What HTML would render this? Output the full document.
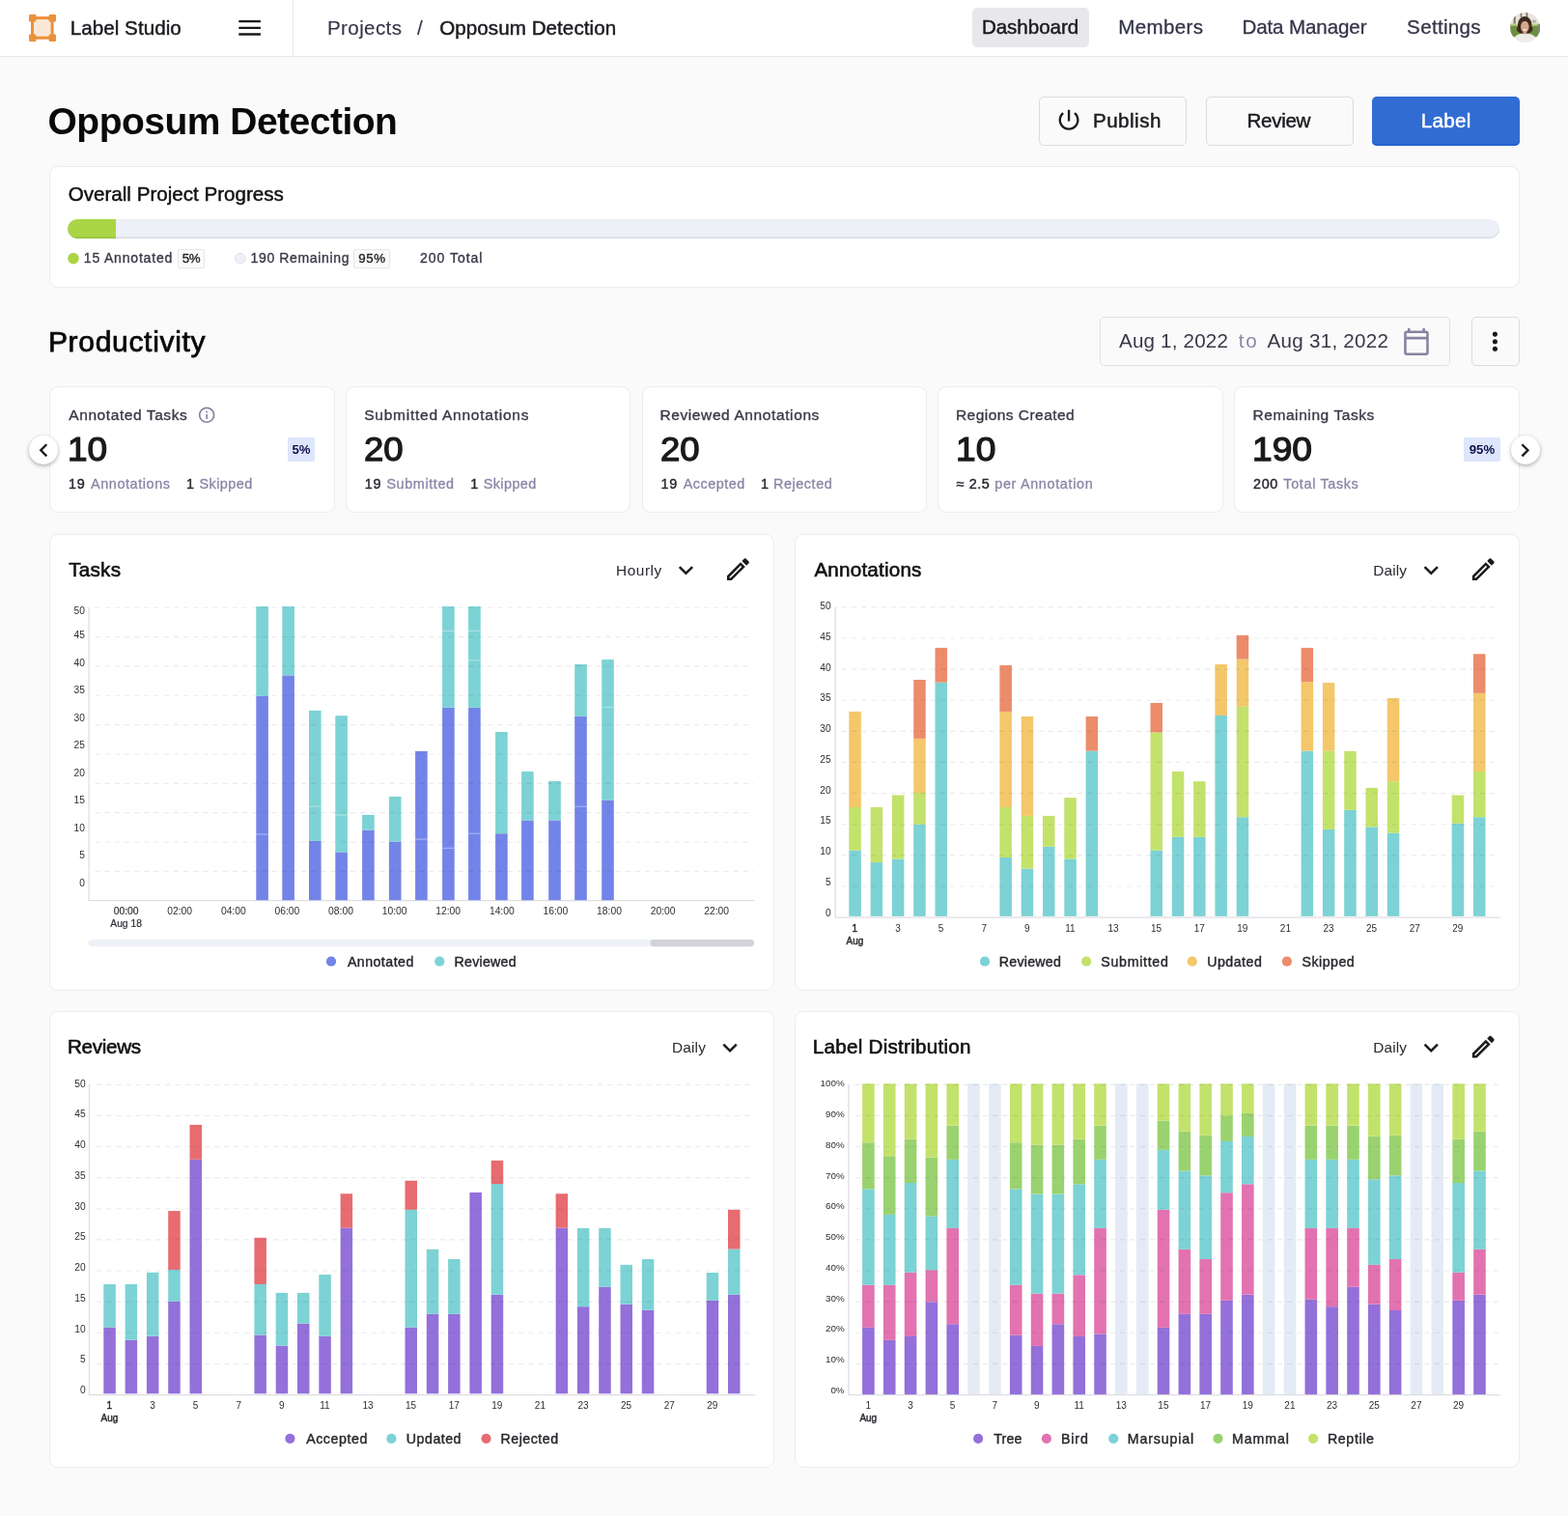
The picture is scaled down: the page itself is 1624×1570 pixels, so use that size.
<!DOCTYPE html>
<html lang="en"><head><meta charset="utf-8"><title>Opposum Detection - Label Studio</title>
<style>
html,body{margin:0;padding:0}
body{width:1624px;height:1570px;position:relative;overflow:hidden;background:#fafafa;font-family:"Liberation Sans",sans-serif;}
.t{position:absolute;white-space:pre;margin:0}
.card{position:absolute;background:#fff;border:1px solid #ececf1;border-radius:9px;box-sizing:border-box}
svg{position:absolute;overflow:visible}
svg text{font-family:"Liberation Sans",sans-serif}
</style></head><body>
<div class="hdr" style="position:absolute;left:0px;top:0px;width:1624px;height:58px;background:#fff;border-bottom:1px solid #e6e6ea;"></div>
<div class="" style="position:absolute;left:303px;top:0px;width:1px;height:58px;background:#e6e6ea;"></div>
<svg style="left:30px;top:15px" width="28" height="28" viewBox="0 0 28 28">
<rect x="3.5" y="3.6" width="20.6" height="20.6" fill="#fae8d6" stroke="#ec9038" stroke-width="3"/>
<rect x="0" y="0" width="7.4" height="7.4" rx="1" fill="#ec9038"/><rect x="20.6" y="0" width="7.4" height="7.4" rx="1" fill="#ec9038"/>
<rect x="0" y="20.6" width="7.4" height="7.4" rx="1" fill="#ec9038"/><rect x="20.6" y="20.6" width="7.4" height="7.4" rx="1" fill="#ec9038"/></svg>
<span class="t" style="left:72.68px;top:16.00px;font-size:20.6px;line-height:25px;color:#1a1a1f;letter-spacing:0.053px;-webkit-text-stroke:0.45px #1a1a1f;">Label Studio</span>
<svg style="left:247px;top:20px" width="24" height="18" viewBox="0 0 24 18"><path d="M0.3 2.1h22.6M0.3 8.8h22.6M0.3 15.5h22.6" stroke="#1a1a1a" stroke-width="2.3" fill="none"/></svg>
<span class="t" style="left:339.03px;top:15.70px;font-size:20.6px;line-height:25px;color:#35354a;letter-spacing:0.365px;-webkit-text-stroke:0.15px #35354a;">Projects</span>
<span class="t" style="left:431.88px;top:15.70px;font-size:20.6px;line-height:25px;color:#35354a;-webkit-text-stroke:0.15px #35354a;">/</span>
<span class="t" style="left:455.20px;top:15.70px;font-size:20.6px;line-height:25px;color:#1a1a1f;letter-spacing:0.057px;-webkit-text-stroke:0.45px #1a1a1f;">Opposum Detection</span>
<div class="" style="position:absolute;left:1007px;top:8px;width:121px;height:40.5px;background:#e8e8eb;border-radius:5px;"></div>
<span class="t" style="left:1016.88px;top:15.20px;font-size:20.6px;line-height:25px;color:#1a1a1f;letter-spacing:-0.050px;-webkit-text-stroke:0.45px #1a1a1f;">Dashboard</span>
<span class="t" style="left:1158.20px;top:15.20px;font-size:20.6px;line-height:25px;color:#35354a;letter-spacing:0.328px;-webkit-text-stroke:0.3px #35354a;">Members</span>
<span class="t" style="left:1286.40px;top:15.20px;font-size:20.6px;line-height:25px;color:#35354a;letter-spacing:-0.122px;-webkit-text-stroke:0.3px #35354a;">Data Manager</span>
<span class="t" style="left:1457.12px;top:15.20px;font-size:20.6px;line-height:25px;color:#35354a;letter-spacing:0.297px;-webkit-text-stroke:0.3px #35354a;">Settings</span>
<svg style="left:1564px;top:12px" width="32" height="32" viewBox="-0.1 -0.9 32 32"><defs><clipPath id="av"><circle cx="15.5" cy="15.5" r="15.5"/></clipPath></defs>
<g clip-path="url(#av)"><rect width="31" height="31" fill="#e8e4de"/><rect x="3.5" y="3" width="2.2" height="9" fill="#8a7a68"/><rect x="10.5" y="0" width="1.6" height="5" fill="#8a7660"/><rect x="16.5" y="0" width="1.6" height="5" fill="#7a6650"/><rect x="22.5" y="8" width="4.5" height="2.6" fill="#b5b3ad"/>
<rect y="12.3" width="31" height="13" fill="#6d8f3f"/><rect y="11.6" width="31" height="2.2" fill="#c3cd86"/><rect x="28.5" y="12" width="2.5" height="10" fill="#7d8a7a"/>
<ellipse cx="15.1" cy="12.6" rx="7.2" ry="8.4" fill="#3a2a21"/><ellipse cx="15.1" cy="17" rx="8.3" ry="5.6" fill="#3a2a21"/><ellipse cx="15.2" cy="14.8" rx="4.3" ry="6" fill="#d6a78c"/><ellipse cx="15.2" cy="18" rx="2" ry="0.9" fill="#f4e9e4"/><path d="M11 9.5Q15 6.5 19.5 10 19 7 15 6.6 11.5 7 11 9.500Z" fill="#3a2a21"/>
<path d="M2 31Q3.500 23 11.500 21.800L19 21.800Q27 23 28.500 31Z" fill="#efebe8"/><rect x="13.2" y="20" width="4" height="2.4" fill="#cf9f85"/></g></svg>
<span class="t" style="left:49.54px;top:101.80px;font-size:39px;line-height:47px;color:#0a0a0a;font-weight:700;letter-spacing:-0.513px;">Opposum Detection</span>
<div class="btn" style="position:absolute;left:1076px;top:100px;width:152.5px;height:50.5px;background:#fafafa;border:1px solid #dcdcdf;border-radius:5px;box-sizing:border-box;"></div>
<div class="btn" style="position:absolute;left:1249.3px;top:100px;width:152.5px;height:50.5px;background:#fafafa;border:1px solid #dcdcdf;border-radius:5px;box-sizing:border-box;"></div>
<div class="btn" style="position:absolute;left:1421px;top:100px;width:153px;height:50.6px;background:#316cd3;border-radius:5px;box-shadow:inset 0 -1.5px 0 #255ccc,0 1px 0 #fff;"></div>
<svg style="left:1093px;top:110px" width="29" height="29" viewBox="-0.086 -0.258 24.893 24.893"><path d="M13 3h-2v10h2V3zm4.83 2.17l-1.42 1.42C17.99 7.86 19 9.81 19 12c0 3.87-3.13 7-7 7s-7-3.13-7-7c0-2.19 1.01-4.14 2.58-5.42L6.17 5.17C4.23 6.82 3 9.26 3 12c0 4.97 4.03 9 9 9s9-4.03 9-9c0-2.74-1.23-5.18-3.17-6.83z" fill="#1a1a1a"/></svg>
<span class="t" style="left:1131.98px;top:111.80px;font-size:20.6px;line-height:25px;color:#1a1a1f;letter-spacing:0.478px;-webkit-text-stroke:0.45px #1a1a1f;">Publish</span>
<span class="t" style="left:1291.58px;top:111.80px;font-size:20.6px;line-height:25px;color:#1a1a1f;letter-spacing:-0.334px;-webkit-text-stroke:0.45px #1a1a1f;">Review</span>
<span class="t" style="left:1471.78px;top:111.80px;font-size:20.6px;line-height:25px;color:#fff;letter-spacing:0.267px;-webkit-text-stroke:0.45px #fff;">Label</span>
<div class="card" style="left:50.5px;top:171.5px;width:1523.5px;height:126px"></div>
<span class="t" style="left:70.70px;top:188.10px;font-size:20.6px;line-height:25px;color:#111;-webkit-text-stroke:0.45px #111;">Overall Project Progress</span>
<div class="" style="position:absolute;left:70.2px;top:227.2px;width:1483px;height:20px;background:#edf0f6;border-radius:10px;box-shadow:inset 0 -1.5px 0 #d9dce6;overflow:hidden;"><div style="width:50px;height:20px;background:#aad546;box-shadow:inset 0 -1.5px 0 #97c23a"></div></div>
<svg style="left:68px;top:260px" width="190" height="16" viewBox="68 260 190 16"><circle cx="76" cy="267.6" r="5.8" fill="#aad546"/><circle cx="248.8" cy="267.6" r="5.3" fill="#edf0f6" stroke="#dde1ec" stroke-width="1"/></svg>
<span class="t" style="left:86.83px;top:259.30px;font-size:14px;line-height:17px;color:#3a3848;letter-spacing:0.810px;-webkit-text-stroke:0.35px #3a3848;">15 Annotated</span>
<div class="" style="position:absolute;left:183.5px;top:258px;width:28.3px;height:20px;background:#fafafa;border:1px solid #e6e6ea;box-sizing:border-box;border-radius:2px;"></div>
<span class="t" style="left:188.64px;top:260.30px;font-size:13.3px;line-height:16px;color:#222;letter-spacing:-0.371px;-webkit-text-stroke:0.35px #222;">5%</span>
<span class="t" style="left:259.52px;top:259.30px;font-size:14px;line-height:17px;color:#3a3848;letter-spacing:0.649px;-webkit-text-stroke:0.35px #3a3848;">190 Remaining</span>
<div class="" style="position:absolute;left:366.4px;top:258px;width:37.2px;height:20px;background:#fafafa;border:1px solid #e6e6ea;box-sizing:border-box;border-radius:2px;"></div>
<span class="t" style="left:371.18px;top:260.30px;font-size:13.3px;line-height:16px;color:#222;letter-spacing:0.607px;-webkit-text-stroke:0.35px #222;">95%</span>
<span class="t" style="left:435.08px;top:259.30px;font-size:14px;line-height:17px;color:#3a3848;letter-spacing:0.975px;-webkit-text-stroke:0.35px #3a3848;">200 Total</span>
<span class="t" style="left:49.88px;top:335.60px;font-size:30px;line-height:36px;color:#0a0a0a;letter-spacing:0.695px;-webkit-text-stroke:0.75px #0a0a0a;">Productivity</span>
<div class="" style="position:absolute;left:1138.5px;top:328px;width:363.5px;height:50.5px;background:#fafafa;border:1px solid #e2e2e6;border-radius:5px;box-sizing:border-box;"></div>
<span class="t" style="left:1159.00px;top:340.20px;font-size:20.6px;line-height:25px;color:#3a3848;letter-spacing:0.189px;">Aug 1, 2022</span>
<span class="t" style="left:1282.69px;top:340.20px;font-size:20.6px;line-height:25px;color:#8a84a6;letter-spacing:1.932px;">to</span>
<span class="t" style="left:1312.50px;top:340.20px;font-size:20.6px;line-height:25px;color:#3a3848;letter-spacing:0.269px;">Aug 31, 2022</span>
<svg style="left:1451px;top:338px" width="32" height="32" viewBox="-0.469 -0.469 25 25"><path d="M20 3h-1V1h-2v2H7V1H5v2H4c-1.1 0-2 .9-2 2v16c0 1.1.9 2 2 2h16c1.1 0 2-.9 2-2V5c0-1.1-.9-2-2-2zm0 18H4V10h16v11zm0-13H4V5h16v3z" fill="#8a82a0"/></svg>
<div class="" style="position:absolute;left:1523.5px;top:328px;width:50px;height:50.5px;background:#fafafa;border:1px solid #dcdcdf;border-radius:5px;box-sizing:border-box;"></div>
<svg style="left:1544px;top:342px" width="9" height="24" viewBox="-0.4 0 9 24"><circle cx="4" cy="4.1" r="2.55" fill="#1a1a1a"/><circle cx="4" cy="11.7" r="2.55" fill="#1a1a1a"/><circle cx="4" cy="19.2" r="2.55" fill="#1a1a1a"/></svg>
<div class="card" style="left:51px;top:399.5px;width:295.5px;height:131px"></div>
<span class="t ct" style="left:71.27px;top:419.80px;font-size:15.5px;line-height:19px;color:#3a3848;letter-spacing:0.584px;-webkit-text-stroke:0.35px #3a3848;">Annotated Tasks</span>
<span class="t cn" style="left:70.15px;top:444.20px;font-size:35px;line-height:42px;color:#1a1a1a;transform:scaleX(1.0557);transform-origin:0 0;-webkit-text-stroke:1.25px #1a1a1a;">10</span>
<span class="t s1" style="left:71.02px;top:492.00px;font-size:14.4px;line-height:18px;color:#26262e;letter-spacing:0.844px;-webkit-text-stroke:0.4px #26262e;">19</span>
<span class="t s2" style="left:94.05px;top:492.00px;font-size:14.4px;line-height:18px;color:#8a84a6;letter-spacing:0.587px;-webkit-text-stroke:0.3px #8a84a6;">Annotations</span>
<span class="t s1" style="left:192.92px;top:492.00px;font-size:14.4px;line-height:18px;color:#26262e;-webkit-text-stroke:0.4px #26262e;">1</span>
<span class="t s2" style="left:206.50px;top:492.00px;font-size:14.4px;line-height:18px;color:#8a84a6;letter-spacing:0.459px;-webkit-text-stroke:0.3px #8a84a6;">Skipped</span>
<div class="" style="position:absolute;left:297.8px;top:453.2px;width:28.5px;height:24.5px;background:#dde6fb;border-radius:2px;"></div>
<span class="t bd" style="left:302.48px;top:457.50px;font-size:13.2px;line-height:16px;color:#11114e;font-weight:700;">5%</span>
<svg style="left:204px;top:419px" width="21" height="21" viewBox="-0.303 -1.152 25.455 25.455"><path d="M11 7h2v2h-2zm0 4h2v6h-2zm1-9C6.48 2 2 6.48 2 12s4.48 10 10 10 10-4.48 10-10S17.52 2 12 2zm0 18c-4.41 0-8-3.59-8-8s3.59-8 8-8 8 3.59 8 8-3.59 8-8 8z" fill="#8a80a2"/></svg>
<div class="card" style="left:357.75px;top:399.5px;width:295.5px;height:131px"></div>
<span class="t ct" style="left:377.28px;top:419.80px;font-size:15.5px;line-height:19px;color:#3a3848;letter-spacing:0.751px;-webkit-text-stroke:0.35px #3a3848;">Submitted Annotations</span>
<span class="t cn" style="left:377.10px;top:444.20px;font-size:35px;line-height:42px;color:#1a1a1a;transform:scaleX(1.0439);transform-origin:0 0;-webkit-text-stroke:1.25px #1a1a1a;">20</span>
<span class="t s1" style="left:377.82px;top:492.00px;font-size:14.4px;line-height:18px;color:#26262e;letter-spacing:0.644px;-webkit-text-stroke:0.4px #26262e;">19</span>
<span class="t s2" style="left:400.40px;top:492.00px;font-size:14.4px;line-height:18px;color:#8a84a6;letter-spacing:0.602px;-webkit-text-stroke:0.3px #8a84a6;">Submitted</span>
<span class="t s1" style="left:487.32px;top:492.00px;font-size:14.4px;line-height:18px;color:#26262e;-webkit-text-stroke:0.4px #26262e;">1</span>
<span class="t s2" style="left:500.70px;top:492.00px;font-size:14.4px;line-height:18px;color:#8a84a6;letter-spacing:0.426px;-webkit-text-stroke:0.3px #8a84a6;">Skipped</span>
<div class="card" style="left:664.5px;top:399.5px;width:295.5px;height:131px"></div>
<span class="t ct" style="left:683.43px;top:419.80px;font-size:15.5px;line-height:19px;color:#3a3848;letter-spacing:0.608px;-webkit-text-stroke:0.35px #3a3848;">Reviewed Annotations</span>
<span class="t cn" style="left:683.80px;top:444.20px;font-size:35px;line-height:42px;color:#1a1a1a;transform:scaleX(1.0439);transform-origin:0 0;-webkit-text-stroke:1.25px #1a1a1a;">20</span>
<span class="t s1" style="left:684.52px;top:492.00px;font-size:14.4px;line-height:18px;color:#26262e;letter-spacing:0.644px;-webkit-text-stroke:0.4px #26262e;">19</span>
<span class="t s2" style="left:707.65px;top:492.00px;font-size:14.4px;line-height:18px;color:#8a84a6;letter-spacing:0.502px;-webkit-text-stroke:0.3px #8a84a6;">Accepted</span>
<span class="t s1" style="left:788.12px;top:492.00px;font-size:14.4px;line-height:18px;color:#26262e;-webkit-text-stroke:0.4px #26262e;">1</span>
<span class="t s2" style="left:801.00px;top:492.00px;font-size:14.4px;line-height:18px;color:#8a84a6;letter-spacing:0.558px;-webkit-text-stroke:0.3px #8a84a6;">Rejected</span>
<div class="card" style="left:971.25px;top:399.5px;width:295.5px;height:131px"></div>
<span class="t ct" style="left:989.93px;top:419.80px;font-size:15.5px;line-height:19px;color:#3a3848;letter-spacing:0.464px;-webkit-text-stroke:0.35px #3a3848;">Regions Created</span>
<span class="t cn" style="left:989.84px;top:444.20px;font-size:35px;line-height:42px;color:#1a1a1a;transform:scaleX(1.0614);transform-origin:0 0;-webkit-text-stroke:1.25px #1a1a1a;">10</span>
<span class="t s1" style="left:990.84px;top:492.00px;font-size:14.4px;line-height:18px;color:#26262e;letter-spacing:0.535px;-webkit-text-stroke:0.4px #26262e;">≈ 2.5</span>
<span class="t s2" style="left:1030.21px;top:492.00px;font-size:14.4px;line-height:18px;color:#8a84a6;letter-spacing:0.669px;-webkit-text-stroke:0.3px #8a84a6;">per Annotation</span>
<div class="card" style="left:1278px;top:399.5px;width:295.5px;height:131px"></div>
<span class="t ct" style="left:1297.43px;top:419.80px;font-size:15.5px;line-height:19px;color:#3a3848;letter-spacing:0.586px;-webkit-text-stroke:0.35px #3a3848;">Remaining Tasks</span>
<span class="t cn" style="left:1297.34px;top:444.20px;font-size:35px;line-height:42px;color:#1a1a1a;transform:scaleX(1.0611);transform-origin:0 0;-webkit-text-stroke:1.25px #1a1a1a;">190</span>
<span class="t s1" style="left:1297.98px;top:492.00px;font-size:14.4px;line-height:18px;color:#26262e;letter-spacing:0.674px;-webkit-text-stroke:0.4px #26262e;">200</span>
<span class="t s2" style="left:1329.36px;top:492.00px;font-size:14.4px;line-height:18px;color:#8a84a6;letter-spacing:0.650px;-webkit-text-stroke:0.3px #8a84a6;">Total Tasks</span>
<div class="" style="position:absolute;left:1516px;top:453.2px;width:38px;height:24.5px;background:#dde6fb;border-radius:2px;"></div>
<span class="t bd" style="left:1521.73px;top:457.50px;font-size:13.2px;line-height:16px;color:#11114e;font-weight:700;">95%</span>
<div class="" style="position:absolute;left:30.200000000000003px;top:451.2px;width:30px;height:30px;background:#fff;border-radius:50%;box-shadow:0 1.5px 4px rgba(0,0,0,.32);"></div>
<svg style="left:31px;top:452px" width="29" height="29" viewBox="-0.348 -0.435 25.217 25.217"><path d="M15.41 7.41L14 6l-6 6 6 6 1.41-1.41L10.83 12z" fill="#1a1a1a"/></svg>
<div class="" style="position:absolute;left:1564.5px;top:451.2px;width:30px;height:30px;background:#fff;border-radius:50%;box-shadow:0 1.5px 4px rgba(0,0,0,.32);"></div>
<svg style="left:1565px;top:452px" width="29" height="29" viewBox="-0.609 -0.435 25.217 25.217"><path d="M10 6L8.59 7.41 13.17 12l-4.58 4.59L10 18l6-6z" fill="#1a1a1a"/></svg>
<div class="card" style="left:51px;top:552.5px;width:750.9px;height:473px"></div>
<span class="t" style="left:71.19px;top:576.70px;font-size:20.6px;line-height:25px;color:#111;letter-spacing:0.275px;-webkit-text-stroke:0.6px #111;">Tasks</span>
<span class="t" style="left:637.97px;top:580.90px;font-size:15.4px;line-height:19px;color:#2a2a30;letter-spacing:0.565px;">Hourly</span>
<svg style="left:695px;top:575px" width="31" height="31" viewBox="-0.238 -0.238 24.554 24.554"><path d="M7.41 8.59L12 13.17l4.59-4.58L18 10l-6 6-6-6 1.41-1.41z" fill="#1c1c1c"/></svg>
<svg style="left:749px;top:574px" width="31" height="31" viewBox="-0.157 -0.315 24.393 24.393"><path d="M14.06 9.02l.92.92L5.92 19H5v-.92l9.06-9.06M17.66 3c-.25 0-.51.1-.7.29l-1.83 1.83 3.75 3.75 1.83-1.83c.39-.39.39-1.02 0-1.41l-2.34-2.34c-.2-.2-.45-.29-.71-.29zm-3.6 3.19L3 17.25V21h3.75L17.81 9.94l-3.75-3.75z" fill="#1c1c1c" fill-rule="evenodd"/></svg>
<svg style="left:51px;top:552px" width="751" height="474" viewBox="51 552 751 474">
<path d="M92.1 628.70V932.6H781" stroke="#dedee3" stroke-width="1.25" fill="none"/>
<text x="87.9" y="635.85" font-size="10.2" fill="#2e2e33" text-anchor="end">50</text>
<text x="87.9" y="661.25" font-size="10.2" fill="#2e2e33" text-anchor="end">45</text>
<text x="87.9" y="689.78" font-size="10.2" fill="#2e2e33" text-anchor="end">40</text>
<text x="87.9" y="718.31" font-size="10.2" fill="#2e2e33" text-anchor="end">35</text>
<text x="87.9" y="746.84" font-size="10.2" fill="#2e2e33" text-anchor="end">30</text>
<text x="87.9" y="775.37" font-size="10.2" fill="#2e2e33" text-anchor="end">25</text>
<text x="87.9" y="803.90" font-size="10.2" fill="#2e2e33" text-anchor="end">20</text>
<text x="87.9" y="832.43" font-size="10.2" fill="#2e2e33" text-anchor="end">15</text>
<text x="87.9" y="860.96" font-size="10.2" fill="#2e2e33" text-anchor="end">10</text>
<text x="87.9" y="889.49" font-size="10.2" fill="#2e2e33" text-anchor="end">5</text>
<text x="87.9" y="918.02" font-size="10.2" fill="#2e2e33" text-anchor="end">0</text>
<rect x="265.30" y="720.80" width="12.6" height="211.50" fill="#7384e8"/>
<rect x="265.30" y="628.10" width="12.6" height="92.70" fill="#7cd2d4"/>
<rect x="292.30" y="699.40" width="12.6" height="232.90" fill="#7384e8"/>
<rect x="292.30" y="628.10" width="12.6" height="71.30" fill="#7cd2d4"/>
<rect x="320.00" y="870.90" width="12.6" height="61.40" fill="#7384e8"/>
<rect x="320.00" y="735.90" width="12.6" height="135.00" fill="#7cd2d4"/>
<rect x="347.30" y="882.40" width="12.6" height="49.90" fill="#7384e8"/>
<rect x="347.30" y="741.20" width="12.6" height="141.20" fill="#7cd2d4"/>
<rect x="375.10" y="859.70" width="12.6" height="72.60" fill="#7384e8"/>
<rect x="375.10" y="843.90" width="12.6" height="15.80" fill="#7cd2d4"/>
<rect x="402.90" y="871.70" width="12.6" height="60.60" fill="#7384e8"/>
<rect x="402.90" y="825.00" width="12.6" height="46.70" fill="#7cd2d4"/>
<rect x="430.10" y="777.90" width="12.6" height="154.40" fill="#7384e8"/>
<rect x="458.10" y="732.80" width="12.6" height="199.50" fill="#7384e8"/>
<rect x="458.10" y="628.10" width="12.6" height="104.70" fill="#7cd2d4"/>
<rect x="485.10" y="732.80" width="12.6" height="199.50" fill="#7384e8"/>
<rect x="485.10" y="628.10" width="12.6" height="104.70" fill="#7cd2d4"/>
<rect x="513.10" y="863.20" width="12.6" height="69.10" fill="#7384e8"/>
<rect x="513.10" y="758.00" width="12.6" height="105.20" fill="#7cd2d4"/>
<rect x="540.10" y="849.50" width="12.6" height="82.80" fill="#7384e8"/>
<rect x="540.10" y="799.00" width="12.6" height="50.50" fill="#7cd2d4"/>
<rect x="568.20" y="849.50" width="12.6" height="82.80" fill="#7384e8"/>
<rect x="568.20" y="809.00" width="12.6" height="40.50" fill="#7cd2d4"/>
<rect x="595.20" y="741.70" width="12.6" height="190.60" fill="#7384e8"/>
<rect x="595.20" y="688.00" width="12.6" height="53.70" fill="#7cd2d4"/>
<rect x="623.20" y="828.90" width="12.6" height="103.40" fill="#7384e8"/>
<rect x="623.20" y="683.10" width="12.6" height="145.80" fill="#7cd2d4"/>
<path d="M265.30 864h12.6" stroke="#fff" stroke-opacity=".55" stroke-width=".8"/>
<path d="M320.00 835.2h12.6" stroke="#fff" stroke-opacity=".55" stroke-width=".8"/>
<path d="M347.30 844.1h12.6" stroke="#fff" stroke-opacity=".55" stroke-width=".8"/>
<path d="M430.10 869.1h12.6" stroke="#fff" stroke-opacity=".55" stroke-width=".8"/>
<path d="M458.10 878.3h12.6" stroke="#fff" stroke-opacity=".55" stroke-width=".8"/>
<path d="M458.10 653.3h12.6" stroke="#fff" stroke-opacity=".55" stroke-width=".8"/>
<path d="M485.10 863.2h12.6" stroke="#fff" stroke-opacity=".55" stroke-width=".8"/>
<path d="M485.10 653.3h12.6" stroke="#fff" stroke-opacity=".55" stroke-width=".8"/>
<path d="M485.10 683.9h12.6" stroke="#fff" stroke-opacity=".55" stroke-width=".8"/>
<path d="M595.20 835.2h12.6" stroke="#fff" stroke-opacity=".55" stroke-width=".8"/>
<path d="M623.20 732.3h12.6" stroke="#fff" stroke-opacity=".55" stroke-width=".8"/>
<text x="130.6" y="947.3" font-size="10.3" fill="#2e2e33" text-anchor="middle" stroke="#2e2e33" stroke-width="0.2">00:00</text>
<text x="186.2" y="947.3" font-size="10.3" fill="#2e2e33" text-anchor="middle">02:00</text>
<text x="241.8" y="947.3" font-size="10.3" fill="#2e2e33" text-anchor="middle">04:00</text>
<text x="297.4" y="947.3" font-size="10.3" fill="#2e2e33" text-anchor="middle">06:00</text>
<text x="353.0" y="947.3" font-size="10.3" fill="#2e2e33" text-anchor="middle">08:00</text>
<text x="408.6" y="947.3" font-size="10.3" fill="#2e2e33" text-anchor="middle">10:00</text>
<text x="464.2" y="947.3" font-size="10.3" fill="#2e2e33" text-anchor="middle">12:00</text>
<text x="519.8" y="947.3" font-size="10.3" fill="#2e2e33" text-anchor="middle">14:00</text>
<text x="575.4" y="947.3" font-size="10.3" fill="#2e2e33" text-anchor="middle">16:00</text>
<text x="631.0" y="947.3" font-size="10.3" fill="#2e2e33" text-anchor="middle">18:00</text>
<text x="686.6" y="947.3" font-size="10.3" fill="#2e2e33" text-anchor="middle">20:00</text>
<text x="742.2" y="947.3" font-size="10.3" fill="#2e2e33" text-anchor="middle">22:00</text>
<text x="130.6" y="959.9" font-size="10.3" fill="#2e2e33" text-anchor="middle" stroke="#2e2e33" stroke-width="0.2">Aug 18</text>
<rect x="91.6" y="972.9" width="689.4" height="7.3" rx="3.65" fill="#eef1f7"/><rect x="673.4" y="972.9" width="107.6" height="7.3" rx="3.65" fill="#d2d2db"/>
<path d="M98.5 629.20H781" stroke="#2a2a50" stroke-opacity=".095" stroke-width="1.15" stroke-dasharray="5.1 5.07" fill="none"/>
<path d="M98.5 659.55H781" stroke="#2a2a50" stroke-opacity=".095" stroke-width="1.15" stroke-dasharray="5.1 5.07" fill="none"/>
<path d="M98.5 689.90H781" stroke="#2a2a50" stroke-opacity=".095" stroke-width="1.15" stroke-dasharray="5.1 5.07" fill="none"/>
<path d="M98.5 720.25H781" stroke="#2a2a50" stroke-opacity=".095" stroke-width="1.15" stroke-dasharray="5.1 5.07" fill="none"/>
<path d="M98.5 750.60H781" stroke="#2a2a50" stroke-opacity=".095" stroke-width="1.15" stroke-dasharray="5.1 5.07" fill="none"/>
<path d="M98.5 780.95H781" stroke="#2a2a50" stroke-opacity=".095" stroke-width="1.15" stroke-dasharray="5.1 5.07" fill="none"/>
<path d="M98.5 811.30H781" stroke="#2a2a50" stroke-opacity=".095" stroke-width="1.15" stroke-dasharray="5.1 5.07" fill="none"/>
<path d="M98.5 841.65H781" stroke="#2a2a50" stroke-opacity=".095" stroke-width="1.15" stroke-dasharray="5.1 5.07" fill="none"/>
<path d="M98.5 872.00H781" stroke="#2a2a50" stroke-opacity=".095" stroke-width="1.15" stroke-dasharray="5.1 5.07" fill="none"/>
<path d="M98.5 902.35H781" stroke="#2a2a50" stroke-opacity=".095" stroke-width="1.15" stroke-dasharray="5.1 5.07" fill="none"/>
</svg>
<svg style="left:335px;top:987px" width="128" height="16" viewBox="335 987 128 16"><circle cx="343" cy="995.7" r="5.1" fill="#7384e8"/><circle cx="455.3" cy="995.7" r="5.1" fill="#7cd2d4"/></svg>
<span class="t" style="left:359.90px;top:986.80px;font-size:14.2px;line-height:18px;color:#26262c;letter-spacing:0.462px;-webkit-text-stroke:0.4px #26262c;">Annotated</span>
<span class="t" style="left:470.56px;top:986.80px;font-size:14.2px;line-height:18px;color:#26262c;letter-spacing:0.250px;-webkit-text-stroke:0.4px #26262c;">Reviewed</span>
<div class="card" style="left:822.8px;top:552.5px;width:750.9px;height:473px"></div>
<span class="t" style="left:843.40px;top:576.70px;font-size:20.6px;line-height:25px;color:#111;letter-spacing:0.225px;-webkit-text-stroke:0.6px #111;">Annotations</span>
<span class="t" style="left:1422.17px;top:580.90px;font-size:15.4px;line-height:19px;color:#2a2a30;letter-spacing:0.167px;">Daily</span>
<svg style="left:1467px;top:575px" width="31" height="31" viewBox="-0.079 -0.238 24.554 24.554"><path d="M7.41 8.59L12 13.17l4.59-4.58L18 10l-6 6-6-6 1.41-1.41z" fill="#1c1c1c"/></svg>
<svg style="left:1521px;top:574px" width="31" height="31" viewBox="0 -0.315 24.393 24.393"><path d="M14.06 9.02l.92.92L5.92 19H5v-.92l9.06-9.06M17.66 3c-.25 0-.51.1-.7.29l-1.83 1.83 3.75 3.75 1.83-1.83c.39-.39.39-1.02 0-1.41l-2.34-2.34c-.2-.2-.45-.29-.71-.29zm-3.6 3.19L3 17.25V21h3.75L17.81 9.94l-3.75-3.75z" fill="#1c1c1c" fill-rule="evenodd"/></svg>
<svg style="left:822px;top:552px" width="752" height="474" viewBox="822 552 752 474">
<path d="M865.1 628.40V950.1H1554" stroke="#dedee3" stroke-width="1.25" fill="none"/>
<text x="860.6" y="631.15" font-size="10.2" fill="#2e2e33" text-anchor="end">50</text>
<text x="860.6" y="662.91" font-size="10.2" fill="#2e2e33" text-anchor="end">45</text>
<text x="860.6" y="694.67" font-size="10.2" fill="#2e2e33" text-anchor="end">40</text>
<text x="860.6" y="726.43" font-size="10.2" fill="#2e2e33" text-anchor="end">35</text>
<text x="860.6" y="758.19" font-size="10.2" fill="#2e2e33" text-anchor="end">30</text>
<text x="860.6" y="789.95" font-size="10.2" fill="#2e2e33" text-anchor="end">25</text>
<text x="860.6" y="821.71" font-size="10.2" fill="#2e2e33" text-anchor="end">20</text>
<text x="860.6" y="853.47" font-size="10.2" fill="#2e2e33" text-anchor="end">15</text>
<text x="860.6" y="885.23" font-size="10.2" fill="#2e2e33" text-anchor="end">10</text>
<text x="860.6" y="916.99" font-size="10.2" fill="#2e2e33" text-anchor="end">5</text>
<text x="860.6" y="948.75" font-size="10.2" fill="#2e2e33" text-anchor="end">0</text>
<text x="885.4" y="964.7" font-size="10" fill="#2e2e33" text-anchor="middle" stroke="#2e2e33" stroke-width="0.45">1</text>
<text x="930.0" y="964.7" font-size="10" fill="#2e2e33" text-anchor="middle">3</text>
<text x="974.6" y="964.7" font-size="10" fill="#2e2e33" text-anchor="middle">5</text>
<text x="1019.2" y="964.7" font-size="10" fill="#2e2e33" text-anchor="middle">7</text>
<text x="1063.8" y="964.7" font-size="10" fill="#2e2e33" text-anchor="middle">9</text>
<text x="1108.4" y="964.7" font-size="10" fill="#2e2e33" text-anchor="middle">11</text>
<text x="1153.0" y="964.7" font-size="10" fill="#2e2e33" text-anchor="middle">13</text>
<text x="1197.6" y="964.7" font-size="10" fill="#2e2e33" text-anchor="middle">15</text>
<text x="1242.2" y="964.7" font-size="10" fill="#2e2e33" text-anchor="middle">17</text>
<text x="1286.8" y="964.7" font-size="10" fill="#2e2e33" text-anchor="middle">19</text>
<text x="1331.4" y="964.7" font-size="10" fill="#2e2e33" text-anchor="middle">21</text>
<text x="1376.0" y="964.7" font-size="10" fill="#2e2e33" text-anchor="middle">23</text>
<text x="1420.6" y="964.7" font-size="10" fill="#2e2e33" text-anchor="middle">25</text>
<text x="1465.2" y="964.7" font-size="10" fill="#2e2e33" text-anchor="middle">27</text>
<text x="1509.8" y="964.7" font-size="10" fill="#2e2e33" text-anchor="middle">29</text>
<text x="885.4" y="977.5" font-size="10" fill="#2e2e33" text-anchor="middle" stroke="#2e2e33" stroke-width="0.45">Aug</text>
<rect x="879.30" y="880.60" width="12.5" height="68.30" fill="#7cd2d4"/>
<rect x="879.30" y="836.00" width="12.5" height="44.60" fill="#c3e26b"/>
<rect x="879.30" y="736.90" width="12.5" height="99.10" fill="#f3c76a"/>
<rect x="901.60" y="893.10" width="12.5" height="55.80" fill="#7cd2d4"/>
<rect x="901.60" y="836.00" width="12.5" height="57.10" fill="#c3e26b"/>
<rect x="923.90" y="889.50" width="12.5" height="59.40" fill="#7cd2d4"/>
<rect x="923.90" y="823.50" width="12.5" height="66.00" fill="#c3e26b"/>
<rect x="946.20" y="853.80" width="12.5" height="95.10" fill="#7cd2d4"/>
<rect x="946.20" y="821.00" width="12.5" height="32.80" fill="#c3e26b"/>
<rect x="946.20" y="764.90" width="12.5" height="56.10" fill="#f3c76a"/>
<rect x="946.20" y="704.00" width="12.5" height="60.90" fill="#ec8c6a"/>
<rect x="968.50" y="706.60" width="12.5" height="242.30" fill="#7cd2d4"/>
<rect x="968.50" y="670.90" width="12.5" height="35.70" fill="#ec8c6a"/>
<rect x="1035.40" y="888.00" width="12.5" height="60.90" fill="#7cd2d4"/>
<rect x="1035.40" y="836.00" width="12.5" height="52.00" fill="#c3e26b"/>
<rect x="1035.40" y="736.90" width="12.5" height="99.10" fill="#f3c76a"/>
<rect x="1035.40" y="689.00" width="12.5" height="47.90" fill="#ec8c6a"/>
<rect x="1057.70" y="899.70" width="12.5" height="49.20" fill="#7cd2d4"/>
<rect x="1057.70" y="844.90" width="12.5" height="54.80" fill="#c3e26b"/>
<rect x="1057.70" y="742.00" width="12.5" height="102.90" fill="#f3c76a"/>
<rect x="1080.00" y="876.80" width="12.5" height="72.10" fill="#7cd2d4"/>
<rect x="1080.00" y="844.90" width="12.5" height="31.90" fill="#c3e26b"/>
<rect x="1102.30" y="889.50" width="12.5" height="59.40" fill="#7cd2d4"/>
<rect x="1102.30" y="826.10" width="12.5" height="63.40" fill="#c3e26b"/>
<rect x="1124.60" y="777.60" width="12.5" height="171.30" fill="#7cd2d4"/>
<rect x="1124.60" y="742.00" width="12.5" height="35.60" fill="#ec8c6a"/>
<rect x="1191.50" y="880.60" width="12.5" height="68.30" fill="#7cd2d4"/>
<rect x="1191.50" y="758.50" width="12.5" height="122.10" fill="#c3e26b"/>
<rect x="1191.50" y="728.00" width="12.5" height="30.50" fill="#ec8c6a"/>
<rect x="1213.80" y="866.80" width="12.5" height="82.10" fill="#7cd2d4"/>
<rect x="1213.80" y="799.00" width="12.5" height="67.80" fill="#c3e26b"/>
<rect x="1236.10" y="866.80" width="12.5" height="82.10" fill="#7cd2d4"/>
<rect x="1236.10" y="809.20" width="12.5" height="57.60" fill="#c3e26b"/>
<rect x="1258.40" y="741.00" width="12.5" height="207.90" fill="#7cd2d4"/>
<rect x="1258.40" y="688.00" width="12.5" height="53.00" fill="#f3c76a"/>
<rect x="1280.70" y="846.20" width="12.5" height="102.70" fill="#7cd2d4"/>
<rect x="1280.70" y="731.80" width="12.5" height="114.40" fill="#c3e26b"/>
<rect x="1280.70" y="682.60" width="12.5" height="49.20" fill="#f3c76a"/>
<rect x="1280.70" y="657.90" width="12.5" height="24.70" fill="#ec8c6a"/>
<rect x="1347.60" y="777.60" width="12.5" height="171.30" fill="#7cd2d4"/>
<rect x="1347.60" y="706.30" width="12.5" height="71.30" fill="#f3c76a"/>
<rect x="1347.60" y="670.90" width="12.5" height="35.40" fill="#ec8c6a"/>
<rect x="1369.90" y="858.90" width="12.5" height="90.00" fill="#7cd2d4"/>
<rect x="1369.90" y="777.60" width="12.5" height="81.30" fill="#c3e26b"/>
<rect x="1369.90" y="707.10" width="12.5" height="70.50" fill="#f3c76a"/>
<rect x="1392.20" y="838.80" width="12.5" height="110.10" fill="#7cd2d4"/>
<rect x="1392.20" y="777.90" width="12.5" height="60.90" fill="#c3e26b"/>
<rect x="1414.50" y="856.40" width="12.5" height="92.50" fill="#7cd2d4"/>
<rect x="1414.50" y="815.90" width="12.5" height="40.50" fill="#c3e26b"/>
<rect x="1436.80" y="862.70" width="12.5" height="86.20" fill="#7cd2d4"/>
<rect x="1436.80" y="809.20" width="12.5" height="53.50" fill="#c3e26b"/>
<rect x="1436.80" y="722.90" width="12.5" height="86.30" fill="#f3c76a"/>
<rect x="1503.70" y="852.80" width="12.5" height="96.10" fill="#7cd2d4"/>
<rect x="1503.70" y="823.50" width="12.5" height="29.30" fill="#c3e26b"/>
<rect x="1526.00" y="846.20" width="12.5" height="102.70" fill="#7cd2d4"/>
<rect x="1526.00" y="799.00" width="12.5" height="47.20" fill="#c3e26b"/>
<rect x="1526.00" y="717.80" width="12.5" height="81.20" fill="#f3c76a"/>
<rect x="1526.00" y="677.30" width="12.5" height="40.50" fill="#ec8c6a"/>
<path d="M872 628.90H1554" stroke="#2a2a50" stroke-opacity=".095" stroke-width="1.15" stroke-dasharray="5.1 5.07" fill="none"/>
<path d="M872 661.02H1554" stroke="#2a2a50" stroke-opacity=".095" stroke-width="1.15" stroke-dasharray="5.1 5.07" fill="none"/>
<path d="M872 693.14H1554" stroke="#2a2a50" stroke-opacity=".095" stroke-width="1.15" stroke-dasharray="5.1 5.07" fill="none"/>
<path d="M872 725.26H1554" stroke="#2a2a50" stroke-opacity=".095" stroke-width="1.15" stroke-dasharray="5.1 5.07" fill="none"/>
<path d="M872 757.38H1554" stroke="#2a2a50" stroke-opacity=".095" stroke-width="1.15" stroke-dasharray="5.1 5.07" fill="none"/>
<path d="M872 789.50H1554" stroke="#2a2a50" stroke-opacity=".095" stroke-width="1.15" stroke-dasharray="5.1 5.07" fill="none"/>
<path d="M872 821.62H1554" stroke="#2a2a50" stroke-opacity=".095" stroke-width="1.15" stroke-dasharray="5.1 5.07" fill="none"/>
<path d="M872 853.74H1554" stroke="#2a2a50" stroke-opacity=".095" stroke-width="1.15" stroke-dasharray="5.1 5.07" fill="none"/>
<path d="M872 885.86H1554" stroke="#2a2a50" stroke-opacity=".095" stroke-width="1.15" stroke-dasharray="5.1 5.07" fill="none"/>
<path d="M872 917.98H1554" stroke="#2a2a50" stroke-opacity=".095" stroke-width="1.15" stroke-dasharray="5.1 5.07" fill="none"/>
</svg>
<svg style="left:1012px;top:987px" width="328" height="16" viewBox="1012 987 328 16"><circle cx="1020" cy="995.7" r="5.1" fill="#7cd2d4"/><circle cx="1125.2" cy="995.7" r="5.1" fill="#c3e26b"/><circle cx="1234.8" cy="995.7" r="5.1" fill="#f3c76a"/><circle cx="1332.9" cy="995.7" r="5.1" fill="#ec8c6a"/></svg>
<span class="t" style="left:1034.76px;top:986.80px;font-size:14.2px;line-height:18px;color:#26262c;letter-spacing:0.250px;-webkit-text-stroke:0.4px #26262c;">Reviewed</span>
<span class="t" style="left:1140.26px;top:986.80px;font-size:14.2px;line-height:18px;color:#26262c;letter-spacing:0.711px;-webkit-text-stroke:0.4px #26262c;">Submitted</span>
<span class="t" style="left:1250.13px;top:986.80px;font-size:14.2px;line-height:18px;color:#26262c;letter-spacing:0.507px;-webkit-text-stroke:0.4px #26262c;">Updated</span>
<span class="t" style="left:1348.46px;top:986.80px;font-size:14.2px;line-height:18px;color:#26262c;letter-spacing:0.493px;-webkit-text-stroke:0.4px #26262c;">Skipped</span>
<div class="card" style="left:51px;top:1047px;width:750.9px;height:473px"></div>
<span class="t" style="left:69.95px;top:1071.20px;font-size:20.6px;line-height:25px;color:#111;letter-spacing:-0.267px;-webkit-text-stroke:0.6px #111;">Reviews</span>
<span class="t" style="left:695.97px;top:1075.40px;font-size:15.4px;line-height:19px;color:#2a2a30;letter-spacing:0.167px;">Daily</span>
<svg style="left:740px;top:1069px" width="32" height="32" viewBox="-0.713 -0.634 25.347 25.347"><path d="M7.41 8.59L12 13.17l4.59-4.58L18 10l-6 6-6-6 1.41-1.41z" fill="#1c1c1c"/></svg>
<svg style="left:51px;top:1047px" width="751" height="473" viewBox="51 1047 751 473">
<path d="M92.5 1122.80V1444.5H782" stroke="#dedee3" stroke-width="1.25" fill="none"/>
<text x="88.60000000000002" y="1125.55" font-size="10.2" fill="#2e2e33" text-anchor="end">50</text>
<text x="88.60000000000002" y="1157.31" font-size="10.2" fill="#2e2e33" text-anchor="end">45</text>
<text x="88.60000000000002" y="1189.07" font-size="10.2" fill="#2e2e33" text-anchor="end">40</text>
<text x="88.60000000000002" y="1220.83" font-size="10.2" fill="#2e2e33" text-anchor="end">35</text>
<text x="88.60000000000002" y="1252.59" font-size="10.2" fill="#2e2e33" text-anchor="end">30</text>
<text x="88.60000000000002" y="1284.35" font-size="10.2" fill="#2e2e33" text-anchor="end">25</text>
<text x="88.60000000000002" y="1316.11" font-size="10.2" fill="#2e2e33" text-anchor="end">20</text>
<text x="88.60000000000002" y="1347.87" font-size="10.2" fill="#2e2e33" text-anchor="end">15</text>
<text x="88.60000000000002" y="1379.63" font-size="10.2" fill="#2e2e33" text-anchor="end">10</text>
<text x="88.60000000000002" y="1411.39" font-size="10.2" fill="#2e2e33" text-anchor="end">5</text>
<text x="88.60000000000002" y="1443.15" font-size="10.2" fill="#2e2e33" text-anchor="end">0</text>
<text x="113.4" y="1459.1" font-size="10" fill="#2e2e33" text-anchor="middle" stroke="#2e2e33" stroke-width="0.45">1</text>
<text x="158.0" y="1459.1" font-size="10" fill="#2e2e33" text-anchor="middle">3</text>
<text x="202.6" y="1459.1" font-size="10" fill="#2e2e33" text-anchor="middle">5</text>
<text x="247.2" y="1459.1" font-size="10" fill="#2e2e33" text-anchor="middle">7</text>
<text x="291.8" y="1459.1" font-size="10" fill="#2e2e33" text-anchor="middle">9</text>
<text x="336.4" y="1459.1" font-size="10" fill="#2e2e33" text-anchor="middle">11</text>
<text x="381.0" y="1459.1" font-size="10" fill="#2e2e33" text-anchor="middle">13</text>
<text x="425.6" y="1459.1" font-size="10" fill="#2e2e33" text-anchor="middle">15</text>
<text x="470.2" y="1459.1" font-size="10" fill="#2e2e33" text-anchor="middle">17</text>
<text x="514.8" y="1459.1" font-size="10" fill="#2e2e33" text-anchor="middle">19</text>
<text x="559.4" y="1459.1" font-size="10" fill="#2e2e33" text-anchor="middle">21</text>
<text x="604.0" y="1459.1" font-size="10" fill="#2e2e33" text-anchor="middle">23</text>
<text x="648.6" y="1459.1" font-size="10" fill="#2e2e33" text-anchor="middle">25</text>
<text x="693.2" y="1459.1" font-size="10" fill="#2e2e33" text-anchor="middle">27</text>
<text x="737.8" y="1459.1" font-size="10" fill="#2e2e33" text-anchor="middle">29</text>
<text x="113.39999999999998" y="1471.9" font-size="10" fill="#2e2e33" text-anchor="middle" stroke="#2e2e33" stroke-width="0.45">Aug</text>
<rect x="107.30" y="1374.57" width="12.5" height="68.73" fill="#9370da"/>
<rect x="107.30" y="1329.99" width="12.5" height="44.59" fill="#7cd2d4"/>
<rect x="129.60" y="1387.57" width="12.5" height="55.73" fill="#9370da"/>
<rect x="129.60" y="1329.99" width="12.5" height="57.58" fill="#7cd2d4"/>
<rect x="151.90" y="1383.75" width="12.5" height="59.55" fill="#9370da"/>
<rect x="151.90" y="1317.76" width="12.5" height="65.99" fill="#7cd2d4"/>
<rect x="174.20" y="1347.82" width="12.5" height="95.48" fill="#9370da"/>
<rect x="174.20" y="1314.96" width="12.5" height="32.87" fill="#7cd2d4"/>
<rect x="174.20" y="1254.06" width="12.5" height="60.89" fill="#e66c70"/>
<rect x="196.50" y="1200.82" width="12.5" height="242.48" fill="#9370da"/>
<rect x="196.50" y="1164.89" width="12.5" height="35.92" fill="#e66c70"/>
<rect x="263.40" y="1382.47" width="12.5" height="60.83" fill="#9370da"/>
<rect x="263.40" y="1329.99" width="12.5" height="52.48" fill="#7cd2d4"/>
<rect x="263.40" y="1281.83" width="12.5" height="48.15" fill="#e66c70"/>
<rect x="285.70" y="1393.68" width="12.5" height="49.62" fill="#9370da"/>
<rect x="285.70" y="1338.90" width="12.5" height="54.78" fill="#7cd2d4"/>
<rect x="308.00" y="1370.75" width="12.5" height="72.55" fill="#9370da"/>
<rect x="308.00" y="1338.90" width="12.5" height="31.85" fill="#7cd2d4"/>
<rect x="330.30" y="1383.75" width="12.5" height="59.55" fill="#9370da"/>
<rect x="330.30" y="1320.05" width="12.5" height="63.69" fill="#7cd2d4"/>
<rect x="352.60" y="1271.64" width="12.5" height="171.66" fill="#9370da"/>
<rect x="352.60" y="1236.23" width="12.5" height="35.41" fill="#e66c70"/>
<rect x="419.50" y="1374.57" width="12.5" height="68.73" fill="#9370da"/>
<rect x="419.50" y="1252.79" width="12.5" height="121.78" fill="#7cd2d4"/>
<rect x="419.50" y="1222.73" width="12.5" height="30.06" fill="#e66c70"/>
<rect x="441.80" y="1360.82" width="12.5" height="82.48" fill="#9370da"/>
<rect x="441.80" y="1293.81" width="12.5" height="67.01" fill="#7cd2d4"/>
<rect x="464.10" y="1360.82" width="12.5" height="82.48" fill="#9370da"/>
<rect x="464.10" y="1304.00" width="12.5" height="56.82" fill="#7cd2d4"/>
<rect x="486.40" y="1234.96" width="12.5" height="208.34" fill="#9370da"/>
<rect x="508.70" y="1340.69" width="12.5" height="102.61" fill="#9370da"/>
<rect x="508.70" y="1226.04" width="12.5" height="114.65" fill="#7cd2d4"/>
<rect x="508.70" y="1201.83" width="12.5" height="24.20" fill="#e66c70"/>
<rect x="575.60" y="1271.64" width="12.5" height="171.66" fill="#9370da"/>
<rect x="575.60" y="1236.23" width="12.5" height="35.41" fill="#e66c70"/>
<rect x="597.90" y="1353.17" width="12.5" height="90.13" fill="#9370da"/>
<rect x="597.90" y="1271.90" width="12.5" height="81.27" fill="#7cd2d4"/>
<rect x="620.20" y="1332.79" width="12.5" height="110.51" fill="#9370da"/>
<rect x="620.20" y="1271.90" width="12.5" height="60.89" fill="#7cd2d4"/>
<rect x="642.50" y="1350.62" width="12.5" height="92.68" fill="#9370da"/>
<rect x="642.50" y="1309.86" width="12.5" height="40.76" fill="#7cd2d4"/>
<rect x="664.80" y="1356.74" width="12.5" height="86.56" fill="#9370da"/>
<rect x="664.80" y="1304.00" width="12.5" height="52.74" fill="#7cd2d4"/>
<rect x="731.70" y="1346.80" width="12.5" height="96.50" fill="#9370da"/>
<rect x="731.70" y="1318.01" width="12.5" height="28.79" fill="#7cd2d4"/>
<rect x="754.00" y="1340.69" width="12.5" height="102.61" fill="#9370da"/>
<rect x="754.00" y="1293.55" width="12.5" height="47.13" fill="#7cd2d4"/>
<rect x="754.00" y="1252.79" width="12.5" height="40.76" fill="#e66c70"/>
<path d="M100 1123.30H782" stroke="#2a2a50" stroke-opacity=".095" stroke-width="1.15" stroke-dasharray="5.1 5.07" fill="none"/>
<path d="M100 1155.42H782" stroke="#2a2a50" stroke-opacity=".095" stroke-width="1.15" stroke-dasharray="5.1 5.07" fill="none"/>
<path d="M100 1187.54H782" stroke="#2a2a50" stroke-opacity=".095" stroke-width="1.15" stroke-dasharray="5.1 5.07" fill="none"/>
<path d="M100 1219.66H782" stroke="#2a2a50" stroke-opacity=".095" stroke-width="1.15" stroke-dasharray="5.1 5.07" fill="none"/>
<path d="M100 1251.78H782" stroke="#2a2a50" stroke-opacity=".095" stroke-width="1.15" stroke-dasharray="5.1 5.07" fill="none"/>
<path d="M100 1283.90H782" stroke="#2a2a50" stroke-opacity=".095" stroke-width="1.15" stroke-dasharray="5.1 5.07" fill="none"/>
<path d="M100 1316.02H782" stroke="#2a2a50" stroke-opacity=".095" stroke-width="1.15" stroke-dasharray="5.1 5.07" fill="none"/>
<path d="M100 1348.14H782" stroke="#2a2a50" stroke-opacity=".095" stroke-width="1.15" stroke-dasharray="5.1 5.07" fill="none"/>
<path d="M100 1380.26H782" stroke="#2a2a50" stroke-opacity=".095" stroke-width="1.15" stroke-dasharray="5.1 5.07" fill="none"/>
<path d="M100 1412.38H782" stroke="#2a2a50" stroke-opacity=".095" stroke-width="1.15" stroke-dasharray="5.1 5.07" fill="none"/>
</svg>
<svg style="left:292px;top:1481px" width="219" height="16" viewBox="292 1481 219 16"><circle cx="300.4" cy="1489.8" r="5.1" fill="#9370da"/><circle cx="405.4" cy="1489.8" r="5.1" fill="#7cd2d4"/><circle cx="503.5" cy="1489.8" r="5.1" fill="#e66c70"/></svg>
<span class="t" style="left:317.20px;top:1480.90px;font-size:14.2px;line-height:18px;color:#26262c;letter-spacing:0.563px;-webkit-text-stroke:0.4px #26262c;">Accepted</span>
<span class="t" style="left:420.83px;top:1480.90px;font-size:14.2px;line-height:18px;color:#26262c;letter-spacing:0.507px;-webkit-text-stroke:0.4px #26262c;">Updated</span>
<span class="t" style="left:518.56px;top:1480.90px;font-size:14.2px;line-height:18px;color:#26262c;letter-spacing:0.510px;-webkit-text-stroke:0.4px #26262c;">Rejected</span>
<div class="card" style="left:822.8px;top:1047px;width:750.9px;height:473px"></div>
<span class="t" style="left:841.75px;top:1071.20px;font-size:20.6px;line-height:25px;color:#111;letter-spacing:0.274px;-webkit-text-stroke:0.6px #111;">Label Distribution</span>
<span class="t" style="left:1422.17px;top:1075.40px;font-size:15.4px;line-height:19px;color:#2a2a30;letter-spacing:0.167px;">Daily</span>
<svg style="left:1467px;top:1069px" width="31" height="32" viewBox="-0.079 -0.634 24.554 25.347"><path d="M7.41 8.59L12 13.17l4.59-4.58L18 10l-6 6-6-6 1.41-1.41z" fill="#1c1c1c"/></svg>
<svg style="left:1521px;top:1068px" width="31" height="32" viewBox="0 -0.708 24.393 25.18"><path d="M14.06 9.02l.92.92L5.92 19H5v-.92l9.06-9.06M17.66 3c-.25 0-.51.1-.7.29l-1.83 1.83 3.75 3.75 1.83-1.83c.39-.39.39-1.02 0-1.41l-2.34-2.34c-.2-.2-.45-.29-.71-.29zm-3.6 3.19L3 17.25V21h3.75L17.81 9.94l-3.75-3.75z" fill="#1c1c1c" fill-rule="evenodd"/></svg>
<svg style="left:822px;top:1047px" width="752" height="473" viewBox="822 1047 752 473">
<path d="M879 1122.80V1444.5H1554" stroke="#dedee3" stroke-width="1.25" fill="none"/>
<text x="874.6" y="1125.40" font-size="9.8" fill="#2e2e33" text-anchor="end">100%</text>
<text x="874.6" y="1157.16" font-size="9.8" fill="#2e2e33" text-anchor="end">90%</text>
<text x="874.6" y="1188.92" font-size="9.8" fill="#2e2e33" text-anchor="end">80%</text>
<text x="874.6" y="1220.68" font-size="9.8" fill="#2e2e33" text-anchor="end">70%</text>
<text x="874.6" y="1252.44" font-size="9.8" fill="#2e2e33" text-anchor="end">60%</text>
<text x="874.6" y="1284.20" font-size="9.8" fill="#2e2e33" text-anchor="end">50%</text>
<text x="874.6" y="1315.96" font-size="9.8" fill="#2e2e33" text-anchor="end">40%</text>
<text x="874.6" y="1347.72" font-size="9.8" fill="#2e2e33" text-anchor="end">30%</text>
<text x="874.6" y="1379.48" font-size="9.8" fill="#2e2e33" text-anchor="end">20%</text>
<text x="874.6" y="1411.24" font-size="9.8" fill="#2e2e33" text-anchor="end">10%</text>
<text x="874.6" y="1443.00" font-size="9.8" fill="#2e2e33" text-anchor="end">0%</text>
<text x="899.3" y="1459.1" font-size="10" fill="#2e2e33" text-anchor="middle">1</text>
<text x="943.0" y="1459.1" font-size="10" fill="#2e2e33" text-anchor="middle">3</text>
<text x="986.6" y="1459.1" font-size="10" fill="#2e2e33" text-anchor="middle">5</text>
<text x="1030.3" y="1459.1" font-size="10" fill="#2e2e33" text-anchor="middle">7</text>
<text x="1073.9" y="1459.1" font-size="10" fill="#2e2e33" text-anchor="middle">9</text>
<text x="1117.6" y="1459.1" font-size="10" fill="#2e2e33" text-anchor="middle">11</text>
<text x="1161.3" y="1459.1" font-size="10" fill="#2e2e33" text-anchor="middle">13</text>
<text x="1204.9" y="1459.1" font-size="10" fill="#2e2e33" text-anchor="middle">15</text>
<text x="1248.6" y="1459.1" font-size="10" fill="#2e2e33" text-anchor="middle">17</text>
<text x="1292.2" y="1459.1" font-size="10" fill="#2e2e33" text-anchor="middle">19</text>
<text x="1335.9" y="1459.1" font-size="10" fill="#2e2e33" text-anchor="middle">21</text>
<text x="1379.6" y="1459.1" font-size="10" fill="#2e2e33" text-anchor="middle">23</text>
<text x="1423.2" y="1459.1" font-size="10" fill="#2e2e33" text-anchor="middle">25</text>
<text x="1466.9" y="1459.1" font-size="10" fill="#2e2e33" text-anchor="middle">27</text>
<text x="1510.5" y="1459.1" font-size="10" fill="#2e2e33" text-anchor="middle">29</text>
<text x="899.3" y="1471.9" font-size="10" fill="#2e2e33" text-anchor="middle" stroke="#2e2e33" stroke-width="0.45">Aug</text>
<rect x="893.10" y="1374.83" width="12.6" height="69.27" fill="#9370da"/>
<rect x="893.10" y="1330.75" width="12.6" height="44.08" fill="#e272b0"/>
<rect x="893.10" y="1231.39" width="12.6" height="99.36" fill="#7cd2d4"/>
<rect x="893.10" y="1183.24" width="12.6" height="48.15" fill="#9ad26f"/>
<rect x="893.10" y="1122.34" width="12.6" height="60.89" fill="#c3e26b"/>
<rect x="914.93" y="1387.82" width="12.6" height="56.28" fill="#9370da"/>
<rect x="914.93" y="1330.75" width="12.6" height="57.07" fill="#e272b0"/>
<rect x="914.93" y="1257.89" width="12.6" height="72.87" fill="#7cd2d4"/>
<rect x="914.93" y="1197.25" width="12.6" height="60.64" fill="#9ad26f"/>
<rect x="914.93" y="1122.34" width="12.6" height="74.90" fill="#c3e26b"/>
<rect x="936.76" y="1384.00" width="12.6" height="60.10" fill="#9370da"/>
<rect x="936.76" y="1317.76" width="12.6" height="66.24" fill="#e272b0"/>
<rect x="936.76" y="1225.02" width="12.6" height="92.74" fill="#7cd2d4"/>
<rect x="936.76" y="1179.67" width="12.6" height="45.35" fill="#9ad26f"/>
<rect x="936.76" y="1122.34" width="12.6" height="57.32" fill="#c3e26b"/>
<rect x="958.59" y="1348.33" width="12.6" height="95.77" fill="#9370da"/>
<rect x="958.59" y="1315.21" width="12.6" height="33.12" fill="#e272b0"/>
<rect x="958.59" y="1259.41" width="12.6" height="55.80" fill="#7cd2d4"/>
<rect x="958.59" y="1198.52" width="12.6" height="60.89" fill="#9ad26f"/>
<rect x="958.59" y="1122.34" width="12.6" height="76.18" fill="#c3e26b"/>
<rect x="980.42" y="1371.26" width="12.6" height="72.84" fill="#9370da"/>
<rect x="980.42" y="1271.90" width="12.6" height="99.36" fill="#e272b0"/>
<rect x="980.42" y="1200.82" width="12.6" height="71.08" fill="#7cd2d4"/>
<rect x="980.42" y="1165.66" width="12.6" height="35.16" fill="#9ad26f"/>
<rect x="980.42" y="1122.34" width="12.6" height="43.31" fill="#c3e26b"/>
<rect x="1002.25" y="1122.34" width="12.6" height="321.76" fill="#e4ebf5"/>
<rect x="1024.08" y="1122.34" width="12.6" height="321.76" fill="#e4ebf5"/>
<rect x="1045.91" y="1382.73" width="12.6" height="61.37" fill="#9370da"/>
<rect x="1045.91" y="1330.75" width="12.6" height="51.97" fill="#e272b0"/>
<rect x="1045.91" y="1231.39" width="12.6" height="99.36" fill="#7cd2d4"/>
<rect x="1045.91" y="1183.24" width="12.6" height="48.15" fill="#9ad26f"/>
<rect x="1045.91" y="1122.34" width="12.6" height="60.89" fill="#c3e26b"/>
<rect x="1067.74" y="1393.94" width="12.6" height="50.16" fill="#9370da"/>
<rect x="1067.74" y="1339.67" width="12.6" height="54.27" fill="#e272b0"/>
<rect x="1067.74" y="1236.48" width="12.6" height="103.18" fill="#7cd2d4"/>
<rect x="1067.74" y="1185.78" width="12.6" height="50.70" fill="#9ad26f"/>
<rect x="1067.74" y="1122.34" width="12.6" height="63.44" fill="#c3e26b"/>
<rect x="1089.57" y="1371.26" width="12.6" height="72.84" fill="#9370da"/>
<rect x="1089.57" y="1339.67" width="12.6" height="31.59" fill="#e272b0"/>
<rect x="1089.57" y="1236.48" width="12.6" height="103.18" fill="#7cd2d4"/>
<rect x="1089.57" y="1185.78" width="12.6" height="50.70" fill="#9ad26f"/>
<rect x="1089.57" y="1122.34" width="12.6" height="63.44" fill="#c3e26b"/>
<rect x="1111.40" y="1384.00" width="12.6" height="60.10" fill="#9370da"/>
<rect x="1111.40" y="1320.31" width="12.6" height="63.69" fill="#e272b0"/>
<rect x="1111.40" y="1226.29" width="12.6" height="94.01" fill="#7cd2d4"/>
<rect x="1111.40" y="1179.67" width="12.6" height="46.62" fill="#9ad26f"/>
<rect x="1111.40" y="1122.34" width="12.6" height="57.32" fill="#c3e26b"/>
<rect x="1133.23" y="1381.45" width="12.6" height="62.65" fill="#9370da"/>
<rect x="1133.23" y="1271.90" width="12.6" height="109.55" fill="#e272b0"/>
<rect x="1133.23" y="1200.82" width="12.6" height="71.08" fill="#7cd2d4"/>
<rect x="1133.23" y="1165.66" width="12.6" height="35.16" fill="#9ad26f"/>
<rect x="1133.23" y="1122.34" width="12.6" height="43.31" fill="#c3e26b"/>
<rect x="1155.06" y="1122.34" width="12.6" height="321.76" fill="#e4ebf5"/>
<rect x="1176.89" y="1122.34" width="12.6" height="321.76" fill="#e4ebf5"/>
<rect x="1198.72" y="1374.83" width="12.6" height="69.27" fill="#9370da"/>
<rect x="1198.72" y="1252.79" width="12.6" height="122.04" fill="#e272b0"/>
<rect x="1198.72" y="1190.88" width="12.6" height="61.91" fill="#7cd2d4"/>
<rect x="1198.72" y="1160.56" width="12.6" height="30.32" fill="#9ad26f"/>
<rect x="1198.72" y="1122.34" width="12.6" height="38.22" fill="#c3e26b"/>
<rect x="1220.55" y="1360.82" width="12.6" height="83.28" fill="#9370da"/>
<rect x="1220.55" y="1293.81" width="12.6" height="67.01" fill="#e272b0"/>
<rect x="1220.55" y="1212.54" width="12.6" height="81.27" fill="#7cd2d4"/>
<rect x="1220.55" y="1171.77" width="12.6" height="40.76" fill="#9ad26f"/>
<rect x="1220.55" y="1122.34" width="12.6" height="49.43" fill="#c3e26b"/>
<rect x="1242.38" y="1360.82" width="12.6" height="83.28" fill="#9370da"/>
<rect x="1242.38" y="1304.00" width="12.6" height="56.82" fill="#e272b0"/>
<rect x="1242.38" y="1217.38" width="12.6" height="86.62" fill="#7cd2d4"/>
<rect x="1242.38" y="1175.85" width="12.6" height="41.53" fill="#9ad26f"/>
<rect x="1242.38" y="1122.34" width="12.6" height="53.50" fill="#c3e26b"/>
<rect x="1264.21" y="1346.80" width="12.6" height="97.30" fill="#9370da"/>
<rect x="1264.21" y="1235.21" width="12.6" height="111.59" fill="#e272b0"/>
<rect x="1264.21" y="1181.96" width="12.6" height="53.25" fill="#7cd2d4"/>
<rect x="1264.21" y="1155.21" width="12.6" height="26.75" fill="#9ad26f"/>
<rect x="1264.21" y="1122.34" width="12.6" height="32.87" fill="#c3e26b"/>
<rect x="1286.04" y="1340.69" width="12.6" height="103.41" fill="#9370da"/>
<rect x="1286.04" y="1226.29" width="12.6" height="114.39" fill="#e272b0"/>
<rect x="1286.04" y="1176.87" width="12.6" height="49.43" fill="#7cd2d4"/>
<rect x="1286.04" y="1152.92" width="12.6" height="23.95" fill="#9ad26f"/>
<rect x="1286.04" y="1122.34" width="12.6" height="30.57" fill="#c3e26b"/>
<rect x="1307.87" y="1122.34" width="12.6" height="321.76" fill="#e4ebf5"/>
<rect x="1329.70" y="1122.34" width="12.6" height="321.76" fill="#e4ebf5"/>
<rect x="1351.53" y="1345.78" width="12.6" height="98.32" fill="#9370da"/>
<rect x="1351.53" y="1271.90" width="12.6" height="73.89" fill="#e272b0"/>
<rect x="1351.53" y="1200.82" width="12.6" height="71.08" fill="#7cd2d4"/>
<rect x="1351.53" y="1165.66" width="12.6" height="35.16" fill="#9ad26f"/>
<rect x="1351.53" y="1122.34" width="12.6" height="43.31" fill="#c3e26b"/>
<rect x="1373.36" y="1353.17" width="12.6" height="90.93" fill="#9370da"/>
<rect x="1373.36" y="1271.90" width="12.6" height="81.27" fill="#e272b0"/>
<rect x="1373.36" y="1200.82" width="12.6" height="71.08" fill="#7cd2d4"/>
<rect x="1373.36" y="1165.66" width="12.6" height="35.16" fill="#9ad26f"/>
<rect x="1373.36" y="1122.34" width="12.6" height="43.31" fill="#c3e26b"/>
<rect x="1395.19" y="1332.79" width="12.6" height="111.31" fill="#9370da"/>
<rect x="1395.19" y="1271.90" width="12.6" height="60.89" fill="#e272b0"/>
<rect x="1395.19" y="1200.82" width="12.6" height="71.08" fill="#7cd2d4"/>
<rect x="1395.19" y="1165.66" width="12.6" height="35.16" fill="#9ad26f"/>
<rect x="1395.19" y="1122.34" width="12.6" height="43.31" fill="#c3e26b"/>
<rect x="1417.02" y="1350.62" width="12.6" height="93.48" fill="#9370da"/>
<rect x="1417.02" y="1309.86" width="12.6" height="40.76" fill="#e272b0"/>
<rect x="1417.02" y="1221.20" width="12.6" height="88.66" fill="#7cd2d4"/>
<rect x="1417.02" y="1176.87" width="12.6" height="44.33" fill="#9ad26f"/>
<rect x="1417.02" y="1122.34" width="12.6" height="54.52" fill="#c3e26b"/>
<rect x="1438.85" y="1356.99" width="12.6" height="87.11" fill="#9370da"/>
<rect x="1438.85" y="1304.00" width="12.6" height="52.99" fill="#e272b0"/>
<rect x="1438.85" y="1217.38" width="12.6" height="86.62" fill="#7cd2d4"/>
<rect x="1438.85" y="1175.85" width="12.6" height="41.53" fill="#9ad26f"/>
<rect x="1438.85" y="1122.34" width="12.6" height="53.50" fill="#c3e26b"/>
<rect x="1460.68" y="1122.34" width="12.6" height="321.76" fill="#e4ebf5"/>
<rect x="1482.51" y="1122.34" width="12.6" height="321.76" fill="#e4ebf5"/>
<rect x="1504.34" y="1346.80" width="12.6" height="97.30" fill="#9370da"/>
<rect x="1504.34" y="1317.76" width="12.6" height="29.04" fill="#e272b0"/>
<rect x="1504.34" y="1225.02" width="12.6" height="92.74" fill="#7cd2d4"/>
<rect x="1504.34" y="1179.67" width="12.6" height="45.35" fill="#9ad26f"/>
<rect x="1504.34" y="1122.34" width="12.6" height="57.32" fill="#c3e26b"/>
<rect x="1526.17" y="1340.69" width="12.6" height="103.41" fill="#9370da"/>
<rect x="1526.17" y="1293.81" width="12.6" height="46.88" fill="#e272b0"/>
<rect x="1526.17" y="1212.54" width="12.6" height="81.27" fill="#7cd2d4"/>
<rect x="1526.17" y="1171.77" width="12.6" height="40.76" fill="#9ad26f"/>
<rect x="1526.17" y="1122.34" width="12.6" height="49.43" fill="#c3e26b"/>
<path d="M885.7 1123.30H1554" stroke="#2a2a50" stroke-opacity=".095" stroke-width="1.15" stroke-dasharray="5.1 5.07" fill="none"/>
<path d="M885.7 1155.42H1554" stroke="#2a2a50" stroke-opacity=".095" stroke-width="1.15" stroke-dasharray="5.1 5.07" fill="none"/>
<path d="M885.7 1187.54H1554" stroke="#2a2a50" stroke-opacity=".095" stroke-width="1.15" stroke-dasharray="5.1 5.07" fill="none"/>
<path d="M885.7 1219.66H1554" stroke="#2a2a50" stroke-opacity=".095" stroke-width="1.15" stroke-dasharray="5.1 5.07" fill="none"/>
<path d="M885.7 1251.78H1554" stroke="#2a2a50" stroke-opacity=".095" stroke-width="1.15" stroke-dasharray="5.1 5.07" fill="none"/>
<path d="M885.7 1283.90H1554" stroke="#2a2a50" stroke-opacity=".095" stroke-width="1.15" stroke-dasharray="5.1 5.07" fill="none"/>
<path d="M885.7 1316.02H1554" stroke="#2a2a50" stroke-opacity=".095" stroke-width="1.15" stroke-dasharray="5.1 5.07" fill="none"/>
<path d="M885.7 1348.14H1554" stroke="#2a2a50" stroke-opacity=".095" stroke-width="1.15" stroke-dasharray="5.1 5.07" fill="none"/>
<path d="M885.7 1380.26H1554" stroke="#2a2a50" stroke-opacity=".095" stroke-width="1.15" stroke-dasharray="5.1 5.07" fill="none"/>
<path d="M885.7 1412.38H1554" stroke="#2a2a50" stroke-opacity=".095" stroke-width="1.15" stroke-dasharray="5.1 5.07" fill="none"/>
</svg>
<svg style="left:1005px;top:1481px" width="363" height="16" viewBox="1005 1481 363 16"><circle cx="1013.1" cy="1489.8" r="5.1" fill="#9370da"/><circle cx="1083.9" cy="1489.8" r="5.1" fill="#e272b0"/><circle cx="1153.2" cy="1489.8" r="5.1" fill="#7cd2d4"/><circle cx="1261.5" cy="1489.8" r="5.1" fill="#9ad26f"/><circle cx="1360.1" cy="1489.8" r="5.1" fill="#c3e26b"/></svg>
<span class="t" style="left:1029.22px;top:1480.90px;font-size:14.2px;line-height:18px;color:#26262c;letter-spacing:0.156px;-webkit-text-stroke:0.4px #26262c;">Tree</span>
<span class="t" style="left:1098.96px;top:1480.90px;font-size:14.2px;line-height:18px;color:#26262c;letter-spacing:0.861px;-webkit-text-stroke:0.4px #26262c;">Bird</span>
<span class="t" style="left:1167.76px;top:1480.90px;font-size:14.2px;line-height:18px;color:#26262c;letter-spacing:0.850px;-webkit-text-stroke:0.4px #26262c;">Marsupial</span>
<span class="t" style="left:1276.06px;top:1480.90px;font-size:14.2px;line-height:18px;color:#26262c;letter-spacing:0.895px;-webkit-text-stroke:0.4px #26262c;">Mammal</span>
<span class="t" style="left:1374.96px;top:1480.90px;font-size:14.2px;line-height:18px;color:#26262c;letter-spacing:0.640px;-webkit-text-stroke:0.4px #26262c;">Reptile</span>
</body></html>
